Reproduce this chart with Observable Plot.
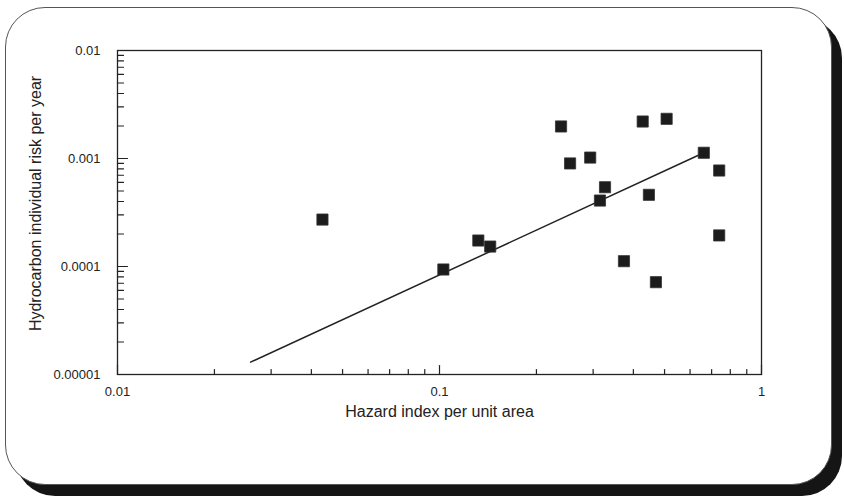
<!DOCTYPE html>
<html>
<head>
<meta charset="utf-8">
<script src="https://cdn.jsdelivr.net/npm/d3@7"></script>
<script src="https://cdn.jsdelivr.net/npm/@observablehq/plot@0.6"></script>
<style>
  html, body { margin: 0; padding: 0; background: #fff; }
  #wrap { position: relative; width: 844px; height: 497px; overflow: hidden; background: #fff; }
  #card { position: absolute; left: 5px; top: 7px; width: 825px; height: 476px;
          border: 1px solid #555; border-radius: 40px; box-shadow: 10px 11px 0 #151515; background: #fff; }
  #chart { position: absolute; left: 0; top: 0; }
  text { font-family: "Liberation Sans", Arial, sans-serif; }
</style>
</head>
<body>
<div id="wrap">
  <div id="card"></div>
  <div id="chart"></div>
</div>
<script>
// Hazard index per unit area (x) vs hydrocarbon individual risk per year (y)
const hazardIndex = [0.0433, 0.1028, 0.132, 0.1437, 0.2385, 0.2544, 0.2938, 0.3266, 0.315, 0.374, 0.4276, 0.447, 0.470, 0.5074, 0.662, 0.739, 0.739];
const individualRisk = [0.000272, 0.0000938, 0.000174, 0.000153, 0.00198, 0.0009, 0.00102, 0.000542, 0.000408, 0.000112, 0.0022, 0.000461, 0.0000716, 0.00233, 0.00113, 0.000774, 0.000194];

// fitted trend line end points
const fitX = [0.0259, 0.662];
const fitY = [0.000013, 0.00113];

// axis ticks
const xMajorTicks = [0.01, 0.1, 1];
const yMajorTicks = [0.00001, 0.0001, 0.001, 0.01];
const xMinorTicks = [0.02,0.03,0.04,0.05,0.06,0.07,0.08,0.09,0.2,0.3,0.4,0.5,0.6,0.7,0.8,0.9];
const yMinorTicks = [2,3,4,5,6,7,8,9].flatMap(m => [1e-5, 1e-4, 1e-3].map(d => +(m * d).toPrecision(3)));

const xLabel = "Hazard index per unit area";
const yLabel = "Hydrocarbon individual risk per year";

const points = hazardIndex.map((x, i) => ({x, y: individualRisk[i]}));
const fit = fitX.map((x, i) => ({x, y: fitY[i]}));

const tickShape = { draw(context, l) { context.moveTo(0, 0); context.lineTo(0, -l); } };

const chart = Plot.plot({
  width: 844,
  height: 497,
  marginLeft: 117,
  marginRight: 83,
  marginTop: 50,
  marginBottom: 123,
  style: { background: "transparent", fontFamily: "'Liberation Sans', Arial, sans-serif", color: "#222" },
  x: { type: "log", domain: [0.01, 1] },
  y: { type: "log", domain: [0.00001, 0.01] },
  marks: [
    Plot.frame({ stroke: "#222", strokeWidth: 1.3 }),
    // inward ticks on bottom axis
    Plot.vector(xMinorTicks, { x: d => d, y: () => 0.00001, length: 5, rotate: 0, anchor: "start", shape: tickShape, stroke: "#222", strokeWidth: 1.2 }),
    Plot.vector(xMajorTicks, { x: d => d, y: () => 0.00001, length: 9, rotate: 0, anchor: "start", shape: tickShape, stroke: "#222", strokeWidth: 1.2 }),
    // inward ticks on left axis
    Plot.vector(yMinorTicks, { x: () => 0.01, y: d => d, length: 6, rotate: 90, anchor: "start", shape: tickShape, stroke: "#222", strokeWidth: 1.2 }),
    Plot.vector(yMajorTicks, { x: () => 0.01, y: d => d, length: 10, rotate: 90, anchor: "start", shape: tickShape, stroke: "#222", strokeWidth: 1.2 }),
    Plot.axisX({ ticks: xMajorTicks, tickSize: 0, tickPadding: 12, fontSize: 13, tickFormat: d => String(d), label: null }),
    Plot.axisY({ ticks: yMajorTicks, tickSize: 0, tickPadding: 17, fontSize: 13, tickFormat: d => String(d), label: null }),
    Plot.line(fit, { x: "x", y: "y", stroke: "#222", strokeWidth: 1.5 }),
    Plot.dot(points, { x: "x", y: "y", symbol: "square", r: 6.3, fill: "#1c1c1c", stroke: "#333", strokeWidth: 0.8, strokeLinejoin: "round" }),
    Plot.text([xLabel], { text: d => d, frameAnchor: "bottom", dy: 42, fontSize: 16, fill: "#222" }),
    Plot.text([yLabel], { text: d => d, frameAnchor: "left", textAnchor: "middle", rotate: -90, dx: -82, dy: -9, fontSize: 16, fill: "#222" })
  ]
});
document.getElementById("chart").appendChild(chart);
</script>
</body>
</html>
